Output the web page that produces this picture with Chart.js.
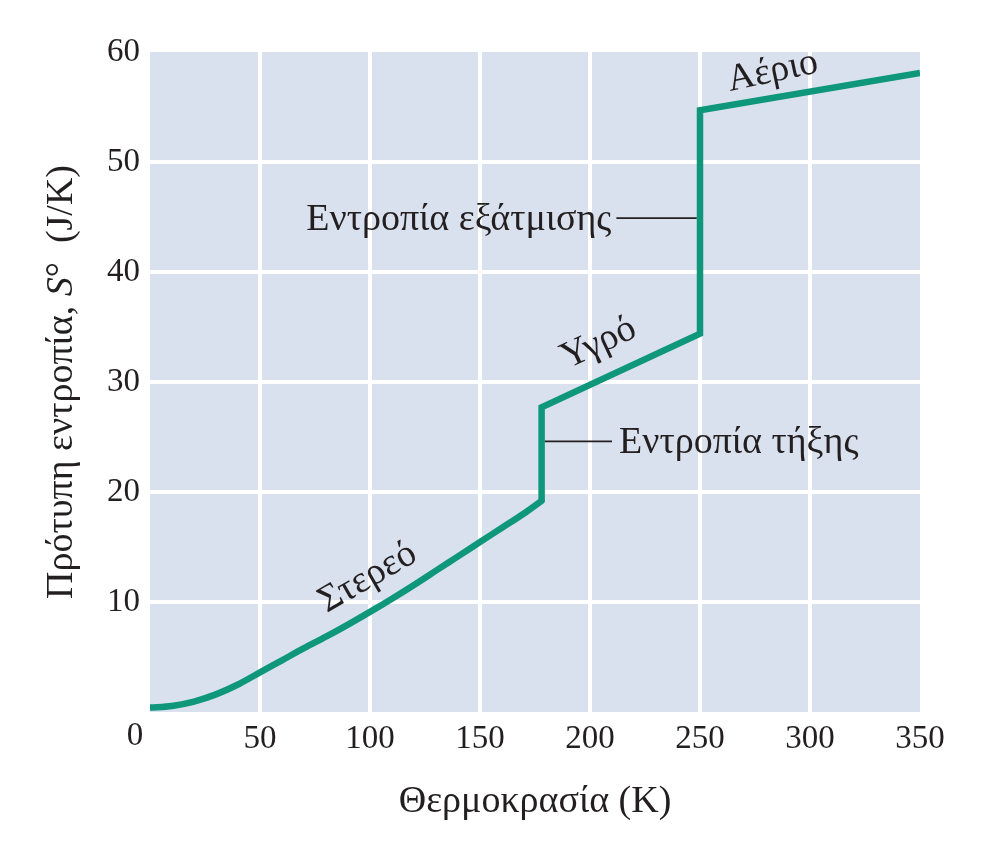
<!DOCTYPE html>
<html>
<head>
<meta charset="utf-8">
<script src="https://cdn.jsdelivr.net/npm/chart.js@4.4.1/dist/chart.umd.min.js"></script>
<style>
  html, body { margin: 0; padding: 0; background: #fff; }
  canvas { display: block; }
</style>
</head>
<body>
<canvas id="myChart" width="992" height="855"></canvas>
<script>
// temperature (K) and standard entropy (J/K) for each phase
const solidT = [0, 10, 20, 30, 40, 50, 60, 70, 80, 90, 100, 110, 120, 130, 140, 150, 160, 170, 178];
const solidS = [0.4, 0.55, 0.95, 1.6, 2.5, 3.6, 4.7, 5.8, 6.85, 7.95, 9.1, 10.3, 11.55, 12.85, 14.15, 15.45, 16.75, 18.05, 19.2];
const liquidT = [178, 250];
const liquidS = [27.7, 34.4];
const gasT = [250, 350];
const gasS = [54.7, 58.1];

const xTicks = [0, 50, 100, 150, 200, 250, 300, 350];
const yTicks = [0, 10, 20, 30, 40, 50, 60];

const xTitle = "Θερμοκρασία (K)";
const yTitle = ["Πρότυπη εντροπία, ", "S", "°  (J/K)"];

// phase labels: text, x, y (data units), angle (deg)
const phaseLabels = [
  { text: "Στερεό", x: 99, y: 12.2, angle: -30 },
  { text: "Υγρό", x: 204, y: 33.5, angle: -25 },
  { text: "Αέριο", x: 283, y: 58.2, angle: -12 }
];
// leader notes: text, line from x1 to x2 at y, text side
const notes = [
  { text: "Εντροπία εξάτμισης", x1: 212, x2: 248.5, y: 44.9, side: "left" },
  { text: "Εντροπία τήξης", x1: 179.5, x2: 210, y: 24.6, side: "right" }
];

const solidPts = solidT.map((v, i) => ({ x: v, y: solidS[i] }));
const stepPts = [solidPts[solidPts.length - 1]];
[[liquidT, liquidS], [gasT, gasS]].forEach(([t, s]) => {
  t.forEach((v, i) => stepPts.push({ x: v, y: s[i] }));
});

const FONT = "'Liberation Serif', 'DejaVu Serif', serif";
const INK = "#231f20";
const GREEN = "#0e977a";

const decor = {
  id: "decor",
  beforeDraw(chart) {
    const { ctx, chartArea: a } = chart;
    ctx.save();
    ctx.fillStyle = "#dae1ee";
    ctx.fillRect(a.left, a.top, a.right - a.left, a.bottom - a.top);
    ctx.restore();
  },
  afterDraw(chart) {
    const { ctx, chartArea: a } = chart;
    const xs = chart.scales.x, ys = chart.scales.y;
    ctx.save();
    ctx.fillStyle = INK;
    ctx.strokeStyle = INK;

    // phase labels
    ctx.font = "38px " + FONT;
    ctx.textAlign = "center";
    ctx.textBaseline = "middle";
    phaseLabels.forEach(p => {
      ctx.save();
      ctx.translate(xs.getPixelForValue(p.x), ys.getPixelForValue(p.y));
      ctx.rotate(p.angle * Math.PI / 180);
      ctx.fillText(p.text, 0, 0);
      ctx.restore();
    });

    // leader notes
    ctx.lineWidth = 1.6;
    notes.forEach(n => {
      const px1 = xs.getPixelForValue(n.x1), px2 = xs.getPixelForValue(n.x2);
      const py = ys.getPixelForValue(n.y);
      ctx.beginPath();
      ctx.moveTo(px1, py);
      ctx.lineTo(px2, py);
      ctx.stroke();
      ctx.textBaseline = "middle";
      if (n.side === "left") {
        ctx.textAlign = "right";
        ctx.fillText(n.text, px1 - 5, py + 2);
      } else {
        ctx.textAlign = "left";
        ctx.fillText(n.text, px2 + 7, py + 2);
      }
    });

    // origin label
    ctx.font = "33px " + FONT;
    ctx.textAlign = "center";
    ctx.textBaseline = "middle";
    ctx.fillText("0", a.left - 15, a.bottom + 24);

    // x title
    ctx.font = "38px " + FONT;
    ctx.fillText(xTitle, (a.left + a.right) / 2, a.bottom + 90);

    // y title with italic S
    ctx.save();
    ctx.translate(62, (a.top + a.bottom) / 2);
    ctx.rotate(-Math.PI / 2);
    const fonts = ["38px " + FONT, "italic 38px " + FONT, "38px " + FONT];
    let total = 0;
    const widths = yTitle.map((t, i) => { ctx.font = fonts[i]; const w = ctx.measureText(t).width; total += w; return w; });
    let cx = -total / 2;
    ctx.textAlign = "left";
    yTitle.forEach((t, i) => {
      ctx.font = fonts[i];
      ctx.fillText(t, cx, 0);
      cx += widths[i];
    });
    ctx.restore();

    ctx.restore();
  }
};

const gridColor = (max) => (c) => (c.tick.value === 0 || c.tick.value === max) ? "rgba(0,0,0,0)" : "#ffffff";

new Chart(document.getElementById("myChart"), {
  type: "scatter",
  data: {
    datasets: [{
      data: solidPts,
      showLine: true,
      borderColor: GREEN,
      borderWidth: 6.5,
      borderCapStyle: "round",
      pointRadius: 0,
      cubicInterpolationMode: "monotone"
    }, {
      data: stepPts,
      showLine: true,
      borderColor: GREEN,
      borderWidth: 6.5,
      borderJoinStyle: "miter",
      pointRadius: 0,
      tension: 0
    }]
  },
  options: {
    responsive: false,
    animation: false,
    devicePixelRatio: 1,
    layout: { padding: { left: 0, right: 72, top: 52, bottom: 0 } },
    plugins: { legend: { display: false }, tooltip: { enabled: false } },
    scales: {
      x: {
        type: "linear",
        min: 0, max: 350,
        afterBuildTicks: s => { s.ticks = xTicks.map(v => ({ value: v })); },
        afterFit: s => { s.height = 143; },
        ticks: {
          callback: v => v === 0 ? "" : v,
          font: { family: FONT, size: 33 },
          color: INK,
          padding: 8,
          maxRotation: 0
        },
        grid: { color: gridColor(350), lineWidth: 4, drawTicks: false },
        border: { display: false }
      },
      y: {
        min: 0, max: 60,
        afterBuildTicks: s => { s.ticks = yTicks.map(v => ({ value: v })); },
        afterFit: s => { s.width = 150; },
        ticks: {
          callback: v => v === 0 ? "" : v,
          font: { family: FONT, size: 33 },
          color: INK,
          padding: 10
        },
        grid: { color: gridColor(60), lineWidth: 4, drawTicks: false },
        border: { display: false }
      }
    }
  },
  plugins: [decor]
});
</script>
</body>
</html>
